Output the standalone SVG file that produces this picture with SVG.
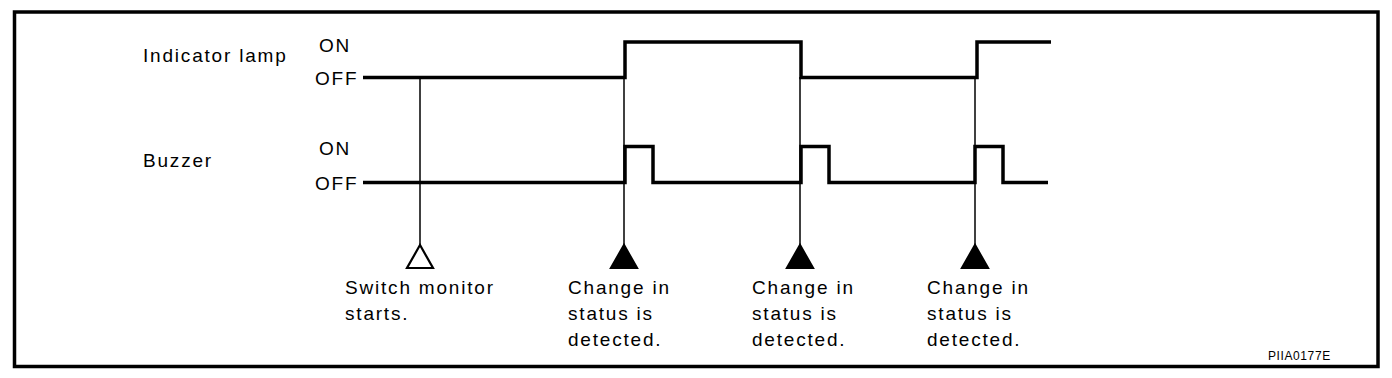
<svg xmlns="http://www.w3.org/2000/svg" width="1392" height="378" viewBox="0 0 1392 378">
<style>
text{font-family:"Liberation Sans",Arial,sans-serif;font-size:19px;fill:#000;letter-spacing:1.8px}
.sig{fill:none;stroke:#000;stroke-width:3.5;stroke-linejoin:miter}
.guide{stroke:#000;stroke-width:1.5;fill:none}
.tri{stroke:#000;stroke-width:2.2;stroke-linejoin:miter}
.code{font-size:12px;letter-spacing:0.6px}
</style>
<rect x="0" y="0" width="1392" height="378" fill="#fff"/>
<rect id="frame" x="14.5" y="12" width="1363.5" height="354.5" fill="none" stroke="#000" stroke-width="3.5"/>
<g id="labels">
<text x="143" y="62">Indicator lamp</text>
<text x="319" y="52">ON</text>
<text x="315" y="85">OFF</text>
<text x="143" y="167">Buzzer</text>
<text x="319" y="155">ON</text>
<text x="315" y="190">OFF</text>
</g>
<g id="connectors">
<polyline class="sig" points="363,77.5 625,77.5 625,42 801,42 801,77.5 977,77.5 977,42 1051,42"/>
<polyline class="sig" points="363,182.5 625,182.5 625,146.5 653,146.5 653,182.5 801,182.5 801,146.5 829,146.5 829,182.5 975,182.5 975,146.5 1003,146.5 1003,182.5 1048,182.5"/>
<line class="guide" x1="420" y1="77" x2="420" y2="246"/>
<line class="guide" x1="624" y1="77" x2="624" y2="246"/>
<line class="guide" x1="800" y1="77" x2="800" y2="246"/>
<line class="guide" x1="975" y1="77" x2="975" y2="246"/>
</g>
<g id="start">
<polygon class="tri" points="420,245 407,268 433,268" fill="#fff"/>
<text x="345" y="294">Switch monitor</text>
<text x="345" y="320">starts.</text>
</g>
<g id="detect1">
<polygon class="tri" points="624,245 611,268 637,268" fill="#000"/>
<text x="568" y="294">Change in</text>
<text x="568" y="320">status is</text>
<text x="568" y="346">detected.</text>
</g>
<g id="detect2">
<polygon class="tri" points="800,245 787,268 813,268" fill="#000"/>
<text x="752" y="294">Change in</text>
<text x="752" y="320">status is</text>
<text x="752" y="346">detected.</text>
</g>
<g id="detect3">
<polygon class="tri" points="975,245 962,268 988,268" fill="#000"/>
<text x="927" y="294">Change in</text>
<text x="927" y="320">status is</text>
<text x="927" y="346">detected.</text>
</g>
<text class="code" x="1268" y="360">PIIA0177E</text>
</svg>
